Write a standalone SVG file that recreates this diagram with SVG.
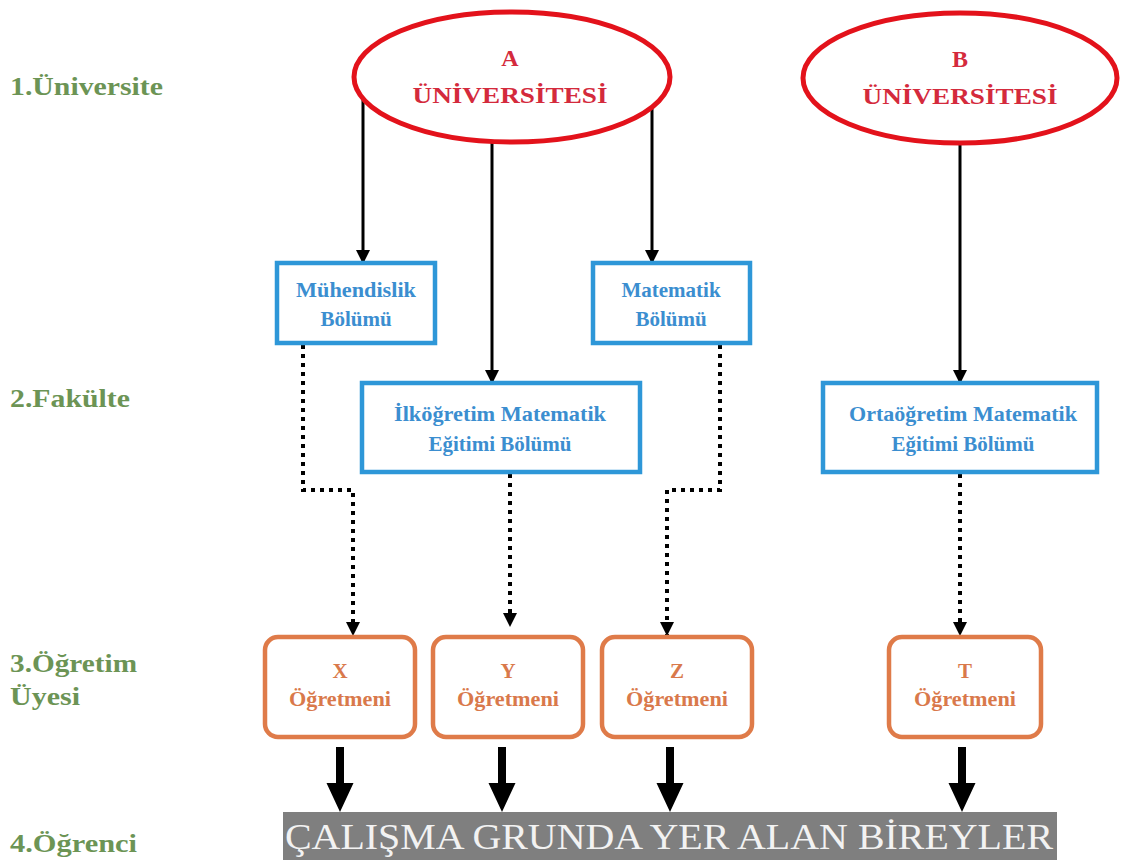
<svg xmlns="http://www.w3.org/2000/svg" width="1122" height="864" viewBox="0 0 1122 864">
  <style>
    .lvl { font-family: "Liberation Serif", serif; font-weight: bold; font-size: 26px; fill: #6c9455; }
    .uni { fill: #ffffff; stroke: #e3121b; stroke-width: 5; }
    .uni-t { font-family: "Liberation Serif", serif; font-weight: bold; font-size: 24px; fill: #d42a3c; text-anchor: middle; }
    .dep { fill: #ffffff; stroke: #2e97d8; stroke-width: 4.5; }
    .dep-t { font-family: "Liberation Serif", serif; font-weight: bold; font-size: 21px; fill: #3b8ed0; text-anchor: middle; }
    .tch { fill: #ffffff; stroke: #df7b49; stroke-width: 4.5; }
    .tch-t { font-family: "Liberation Serif", serif; font-weight: bold; font-size: 21px; fill: #d9794b; text-anchor: middle; }
    .solid { fill: none; stroke: #000; stroke-width: 3; marker-end: url(#headS); }
    .dots { fill: none; stroke: #000; stroke-width: 4; stroke-dasharray: 4 5; marker-end: url(#headD); }
    .big { fill: #000; }
    .bar-t { font-family: "Liberation Serif", serif; font-size: 36px; fill: #f2f2f2; }
  </style>
  <defs>
    <marker id="headS" markerUnits="userSpaceOnUse" markerWidth="14" markerHeight="14" refX="13" refY="7" orient="auto">
      <path d="M0,0 L14,7 L0,14 Z" fill="#000"/>
    </marker>
    <marker id="headD" markerUnits="userSpaceOnUse" markerWidth="14" markerHeight="14" refX="13" refY="7" orient="auto">
      <path d="M0,0 L14,7 L0,14 Z" fill="#000"/>
    </marker>
  </defs>

  <rect width="1122" height="864" fill="#ffffff"/>

  <!-- level labels -->
  <g id="levels">
    <text class="lvl" x="10" y="95" textLength="153" lengthAdjust="spacingAndGlyphs">1.Üniversite</text>
    <text class="lvl" x="10" y="407" textLength="120" lengthAdjust="spacingAndGlyphs">2.Fakülte</text>
    <text class="lvl" x="10" y="672" textLength="127" lengthAdjust="spacingAndGlyphs">3.Öğretim</text>
    <text class="lvl" x="10" y="705" textLength="70" lengthAdjust="spacingAndGlyphs">Üyesi</text>
    <text class="lvl" x="10" y="852" textLength="127" lengthAdjust="spacingAndGlyphs">4.Öğrenci</text>
  </g>

  <!-- connectors -->
  <g id="connectors">
    <path class="solid" d="M363,100 V263"/>
    <path class="solid" d="M492,142 V383"/>
    <path class="solid" d="M652,106 V263"/>
    <path class="solid" d="M960,144 V383"/>

    <path class="dots" d="M303,345 V490 H353 V635"/>
    <path class="dots" d="M510,474 V626"/>
    <path class="dots" d="M720,345 V490 H667 V635"/>
    <path class="dots" d="M960,474 V635"/>

    <path class="big" d="M336,747 H344 V783 H353.5 L340,812 L326.5,783 H336 Z"/>
    <path class="big" d="M498,747 H506 V783 H515.5 L502,812 L488.5,783 H498 Z"/>
    <path class="big" d="M666,747 H674 V783 H683.5 L670,812 L656.5,783 H666 Z"/>
    <path class="big" d="M958,747 H966 V783 H975.5 L962,812 L948.5,783 H958 Z"/>
  </g>

  <!-- universities -->
  <g id="uniA">
    <ellipse class="uni" cx="512" cy="77" rx="158" ry="65"/>
    <text class="uni-t" x="510" y="66">A</text>
    <text class="uni-t" x="510" y="103" textLength="195" lengthAdjust="spacingAndGlyphs">ÜNİVERSİTESİ</text>
  </g>
  <g id="uniB">
    <ellipse class="uni" cx="960" cy="78" rx="157" ry="65"/>
    <text class="uni-t" x="960" y="67">B</text>
    <text class="uni-t" x="960" y="104" textLength="195" lengthAdjust="spacingAndGlyphs">ÜNİVERSİTESİ</text>
  </g>

  <!-- departments -->
  <g id="depMuh">
    <rect class="dep" x="277" y="263" width="158" height="80"/>
    <text class="dep-t" x="356" y="297" textLength="120" lengthAdjust="spacingAndGlyphs">Mühendislik</text>
    <text class="dep-t" x="356" y="326">Bölümü</text>
  </g>
  <g id="depMat">
    <rect class="dep" x="593" y="263" width="157" height="80"/>
    <text class="dep-t" x="671" y="297">Matematik</text>
    <text class="dep-t" x="671" y="326">Bölümü</text>
  </g>
  <g id="depIlk">
    <rect class="dep" x="362" y="383" width="278" height="89"/>
    <text class="dep-t" x="500" y="421" textLength="212" lengthAdjust="spacingAndGlyphs">İlköğretim Matematik</text>
    <text class="dep-t" x="500" y="451">Eğitimi Bölümü</text>
  </g>
  <g id="depOrt">
    <rect class="dep" x="823" y="383" width="274" height="89"/>
    <text class="dep-t" x="963" y="421" textLength="228" lengthAdjust="spacingAndGlyphs">Ortaöğretim Matematik</text>
    <text class="dep-t" x="963" y="451">Eğitimi Bölümü</text>
  </g>

  <!-- teachers -->
  <g id="tchX">
    <rect class="tch" x="265" y="637" width="150" height="100" rx="13"/>
    <text class="tch-t" x="340" y="678">X</text>
    <text class="tch-t" x="340" y="706" textLength="102" lengthAdjust="spacingAndGlyphs">Öğretmeni</text>
  </g>
  <g id="tchY">
    <rect class="tch" x="433" y="637" width="150" height="100" rx="13"/>
    <text class="tch-t" x="508" y="678">Y</text>
    <text class="tch-t" x="508" y="706" textLength="102" lengthAdjust="spacingAndGlyphs">Öğretmeni</text>
  </g>
  <g id="tchZ">
    <rect class="tch" x="602" y="637" width="150" height="100" rx="13"/>
    <text class="tch-t" x="677" y="678">Z</text>
    <text class="tch-t" x="677" y="706" textLength="102" lengthAdjust="spacingAndGlyphs">Öğretmeni</text>
  </g>
  <g id="tchT">
    <rect class="tch" x="889" y="637" width="152" height="100" rx="13"/>
    <text class="tch-t" x="965" y="678">T</text>
    <text class="tch-t" x="965" y="706" textLength="102" lengthAdjust="spacingAndGlyphs">Öğretmeni</text>
  </g>

  <!-- student group bar -->
  <g id="students">
    <rect x="283" y="812" width="774" height="48" fill="#7f7f7f"/>
    <text class="bar-t" x="285" y="849" textLength="768" lengthAdjust="spacingAndGlyphs">ÇALIŞMA GRUNDA YER ALAN BİREYLER</text>
  </g>
</svg>
